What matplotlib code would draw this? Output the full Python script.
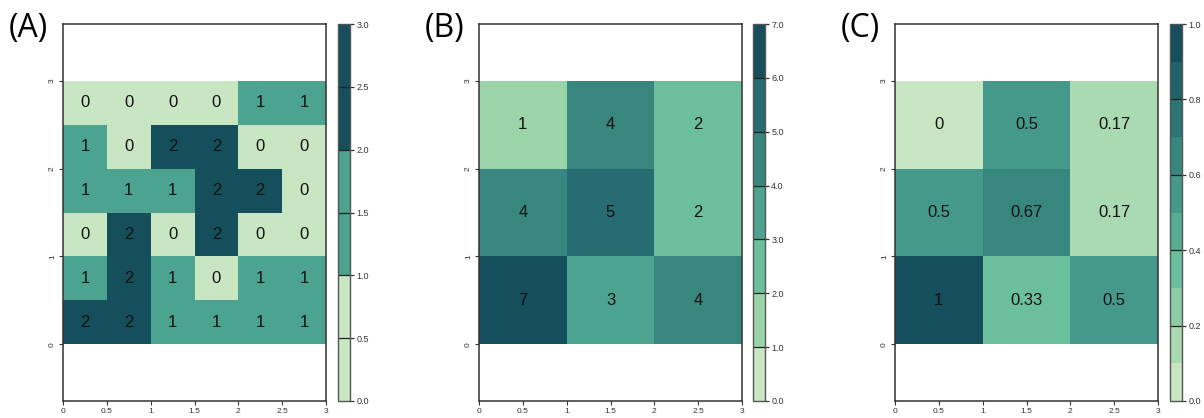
import numpy as np
import matplotlib
matplotlib.use('Agg')
import matplotlib.pyplot as plt
from matplotlib.colors import LinearSegmentedColormap, ListedColormap, BoundaryNorm

plt.rcParams['font.family'] = ['Liberation Sans', 'DejaVu Sans']

# grids, rows listed from top to bottom
grid_a = [[0, 0, 0, 0, 1, 1],
          [1, 0, 2, 2, 0, 0],
          [1, 1, 1, 2, 2, 0],
          [0, 2, 0, 2, 0, 0],
          [1, 2, 1, 0, 1, 1],
          [2, 2, 1, 1, 1, 1]]
grid_b = [[1, 4, 2],
          [4, 5, 2],
          [7, 3, 4]]
grid_c = [[0, 0.5, 0.17],
          [0.5, 0.67, 0.17],
          [1, 0.33, 0.5]]

panel_labels = ['(A)', '(B)', '(C)']
levels_a = [0, 1, 2, 3]
levels_b = [0, 1, 2, 3, 4, 5, 6, 7]
levels_c = [0, 0.1, 0.2, 0.3, 0.4, 0.5, 0.6, 0.7, 0.8, 0.9, 1.0]
cbar_ticks_a = [0, 0.5, 1, 1.5, 2, 2.5, 3]
cbar_ticks_b = [0, 1, 2, 3, 4, 5, 6, 7]
cbar_ticks_c = [0, 0.2, 0.4, 0.6, 0.8, 1.0]
x_ticks = [0, 0.5, 1, 1.5, 2, 2.5, 3]
y_ticks = [0, 1, 2, 3]

ramp = LinearSegmentedColormap.from_list(
    'ramp', ['#C8E6C2', '#9BD4AA', '#6BBF9C', '#4CA38F', '#37877F', '#266C70', '#164F5C'])

W, H = 1204, 418
fig = plt.figure(figsize=(W / 100, H / 100), dpi=100)

ax_lefts = [63, 479, 895]
cb_lefts = [338, 753, 1170]
panels = [(grid_a, levels_a, cbar_ticks_a),
          (grid_b, levels_b, cbar_ticks_b),
          (grid_c, levels_c, cbar_ticks_c)]

top, bottom = 24, 401
for i, (grid, levels, cticks) in enumerate(panels):
    data = np.array(grid, dtype=float)[::-1]
    nrow, ncol = data.shape
    n = len(levels) - 1
    cmap = ListedColormap([ramp(k / (n - 1)) for k in range(n)])
    norm = BoundaryNorm(levels, n)

    ax = fig.add_axes([ax_lefts[i] / W, (H - bottom) / H, 263 / W, (bottom - top) / H])
    xe = np.linspace(0, 3, ncol + 1)
    ye = np.linspace(0, 3, nrow + 1)
    ax.pcolormesh(xe, ye, data, cmap=cmap, norm=norm, antialiased=False, edgecolors='face', linewidth=0)
    xc = (xe[:-1] + xe[1:]) / 2
    yc = (ye[:-1] + ye[1:]) / 2
    for r in range(nrow):
        for c in range(ncol):
            ax.text(xc[c], yc[r], f'{data[r, c]:g}', ha='center', va='center', fontsize=12, color='#111111')
    ax.set_xlim(0, 3)
    ax.set_ylim(-0.645, 3.645)
    ax.set_xticks(x_ticks)
    ax.set_xticklabels([f'{t:g}' for t in x_ticks])
    ax.set_yticks(y_ticks)
    ax.set_yticklabels([f'{t:g}' for t in y_ticks], rotation=90, va='center')
    ax.tick_params(labelsize=6, colors='#333333', length=3, width=0.8, pad=2)
    for s in ax.spines.values():
        s.set_color('#333333')
        s.set_linewidth(1.1)

    cax = fig.add_axes([cb_lefts[i] / W, (H - bottom) / H, 12 / W, (bottom - top) / H])
    cb = fig.colorbar(plt.cm.ScalarMappable(norm=norm, cmap=cmap), cax=cax, ticks=cticks, format='%.1f')
    cax.minorticks_off()
    cb.outline.set_edgecolor('#555555')
    cb.outline.set_linewidth(1.0)
    cax.tick_params(labelsize=6.5, colors='#333333', length=3, width=0.9, pad=1.5)
    for t in cticks[1:-1]:
        cax.axhline(t, color='#222222', linewidth=0.9)

    fig.text((ax_lefts[i] - 54) / W, (H - 28) / H, panel_labels[i], fontsize=23,
             family=['Open Sans', 'DejaVu Sans'], ha='left', va='center')

fig.savefig('out.png', dpi=100)
